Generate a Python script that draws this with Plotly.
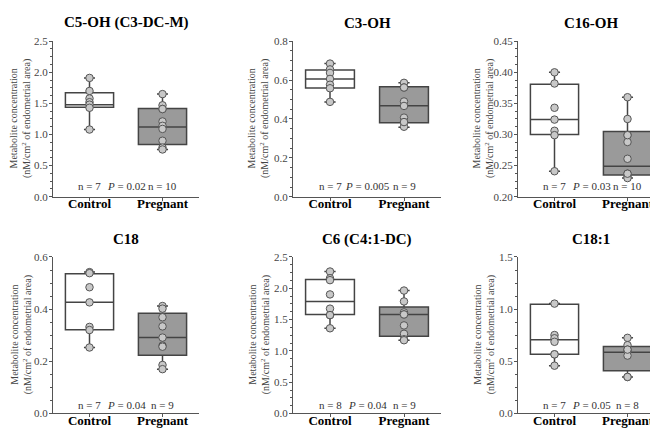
import plotly.graph_objects as go

groups = ["Control", "Pregnant"]
titles = ["C5-OH (C3-DC-M)", "C3-OH", "C16-OH", "C18", "C6 (C4:1-DC)", "C18:1"]
p_values = ["0.02", "0.005", "0.03", "0.04", "0.04", "0.05"]
n_control = [7, 7, 7, 7, 8, 7]
n_pregnant = [10, 9, 10, 9, 9, 8]

# individual points
c5oh_control = [1.91, 1.70, 1.58, 1.52, 1.48, 1.43, 1.08]
c5oh_pregnant = [1.65, 1.47, 1.41, 1.21, 1.14, 1.09, 0.90, 0.79, 0.76, 1.41]
c3oh_control = [0.685, 0.655, 0.637, 0.606, 0.576, 0.558, 0.488]
c3oh_pregnant = [0.586, 0.562, 0.490, 0.467, 0.407, 0.384, 0.360, 0.562, 0.384]
c16oh_control = [0.400, 0.382, 0.343, 0.324, 0.306, 0.299, 0.241]
c16oh_pregnant = [0.360, 0.325, 0.299, 0.288, 0.261, 0.237, 0.233, 0.230, 0.299, 0.237]
c18_control = [0.542, 0.538, 0.484, 0.426, 0.332, 0.320, 0.253]
c18_pregnant = [0.412, 0.402, 0.369, 0.334, 0.291, 0.260, 0.256, 0.186, 0.170]
c6_control = [2.268, 2.160, 2.130, 1.902, 1.675, 1.572, 1.361, 1.572]
c6_pregnant = [1.964, 1.790, 1.615, 1.582, 1.407, 1.273, 1.186, 1.582, 1.170]
c181_control = [1.053, 0.752, 0.721, 0.687, 0.567, 0.458, 0.567]
c181_pregnant = [0.725, 0.655, 0.612, 0.600, 0.555, 0.350, 0.612, 0.350]

# box statistics [control, pregnant]
q1 = [[1.44, 0.84], [0.559, 0.381], [0.300, 0.235], [0.321, 0.223], [1.58, 1.232], [0.567, 0.409]]
median = [[1.48, 1.12], [0.605, 0.468], [0.324, 0.249], [0.426, 0.291], [1.79, 1.580], [0.706, 0.586]]
q3 = [[1.67, 1.42], [0.652, 0.566], [0.381, 0.305], [0.536, 0.384], [2.14, 1.700], [1.048, 0.641]]
lowerfence = [[1.08, 0.76], [0.487, 0.358], [0.241, 0.230], [0.253, 0.170], [1.36, 1.170], [0.458, 0.350]]
upperfence = [[1.91, 1.65], [0.685, 0.586], [0.400, 0.360], [0.542, 0.412], [2.27, 1.964], [1.053, 0.725]]

points = [
    (c5oh_control, c5oh_pregnant), (c3oh_control, c3oh_pregnant),
    (c16oh_control, c16oh_pregnant), (c18_control, c18_pregnant),
    (c6_control, c6_pregnant), (c181_control, c181_pregnant),
]

y_ranges = [[0, 2.5], [0, 0.8], [0.20, 0.45], [0, 0.6], [0, 2.5], [0, 1.5]]
y_dticks = [0.5, 0.2, 0.05, 0.2, 0.5, 0.5]
y_formats = [".1f", ".1f", ".2f", ".1f", ".1f", ".1f"]

W, H = 658, 428
col_px = [(45, 191), (285, 433), (510, 656)]
row_px = [(28, 188), (250, 411)]
title_px = [9, 232]
ytitle_px = [13, 251, 476]

FONT = "Liberation Serif"
LINE = "#444444"
fills = ["#ffffff", "#9a9a9a"]

fig = go.Figure()
axes = {}

for i in range(6):
    r, c = divmod(i, 3)
    k = i + 1
    xa = "x" if k == 1 else f"x{k}"
    ya = "y" if k == 1 else f"y{k}"
    xname = "xaxis" if k == 1 else f"xaxis{k}"
    yname = "yaxis" if k == 1 else f"yaxis{k}"
    x0, x1 = col_px[c]
    top, bot = row_px[r]
    axes[xname] = dict(
        domain=[x0 / W, x1 / W], anchor=ya, type="category",
        categoryorder="array", categoryarray=groups, range=[-0.5, 1.5],
        showline=True, linecolor="#555555", linewidth=1,
        ticks="outside", ticklen=3, tickcolor="#555555", showgrid=False,
        ticklabelstandoff=-8,
        tickfont=dict(family=FONT, size=13, color="black", weight="bold"),
    )
    axes[yname] = dict(
        domain=[1 - bot / H, 1 - top / H], anchor=xa, range=y_ranges[i],
        dtick=y_dticks[i], tick0=0, tickformat=y_formats[i],
        showline=True, linecolor="#555555", linewidth=1,
        ticks="outside", ticklen=3, tickcolor="#555555", showgrid=False,
        ticklabelstandoff=-1,
        zeroline=False, tickfont=dict(family=FONT, size=11, color="#444444"),
        minor=dict(ticks="outside", ticklen=2, dtick=y_dticks[i] / 4, tickcolor="#555555"),
    )
    for g in range(2):
        fig.add_trace(go.Box(
            x=[groups[g]], q1=[q1[i][g]], median=[median[i][g]], q3=[q3[i][g]],
            lowerfence=[lowerfence[i][g]], upperfence=[upperfence[i][g]],
            fillcolor=fills[g], line=dict(color=LINE, width=1.5),
            width=0.66, whiskerwidth=0.23, boxpoints=False,
            xaxis=xa, yaxis=ya, hoverinfo="skip",
        ))
        vals = points[i][g]
        fig.add_trace(go.Scatter(
            x=[groups[g]] * len(vals), y=vals, mode="markers",
            marker=dict(size=7.5, color="#c8c8c8", line=dict(color="#555555", width=1)),
            xaxis=xa, yaxis=ya, hoverinfo="skip",
        ))
    fig.add_annotation(
        text=f"<b>{titles[i]}</b>", xref=f"{xa} domain", x=0.5, yref="paper",
        y=1 - title_px[r] / H, xanchor="center", yanchor="middle", showarrow=False,
        font=dict(family=FONT, size=15, color="black"),
    )
    fig.add_annotation(
        text="Metabolite concentration<br>(nM/cm<sup>2</sup> of endometrial area)",
        xref="paper", x=ytitle_px[c] / W, yref=f"{ya} domain", y=0.5,
        xanchor="center", yanchor="middle", textangle=-90, showarrow=False,
        font=dict(family=FONT, size=10, color="#444444"),
    )
    ny = 0.07 if r == 0 else 0.057
    for xv, txt in [(0, f"n = {n_control[i]}"), (0.5, f"<i>P</i> = {p_values[i]}"),
                    (1, f"n = {n_pregnant[i]}")]:
        fig.add_annotation(
            text=txt, xref=xa, x=xv, yref=f"{ya} domain", y=ny,
            xanchor="center", yanchor="middle", showarrow=False,
            font=dict(family=FONT, size=11, color="#333333"),
        )

fig.update_layout(
    width=W, height=H, margin=dict(l=0, r=0, t=0, b=0),
    paper_bgcolor="white", plot_bgcolor="white",
    showlegend=False, boxmode="overlay",
    font=dict(family=FONT, color="#333333"),
    **axes,
)
fig.write_html("out.html")
